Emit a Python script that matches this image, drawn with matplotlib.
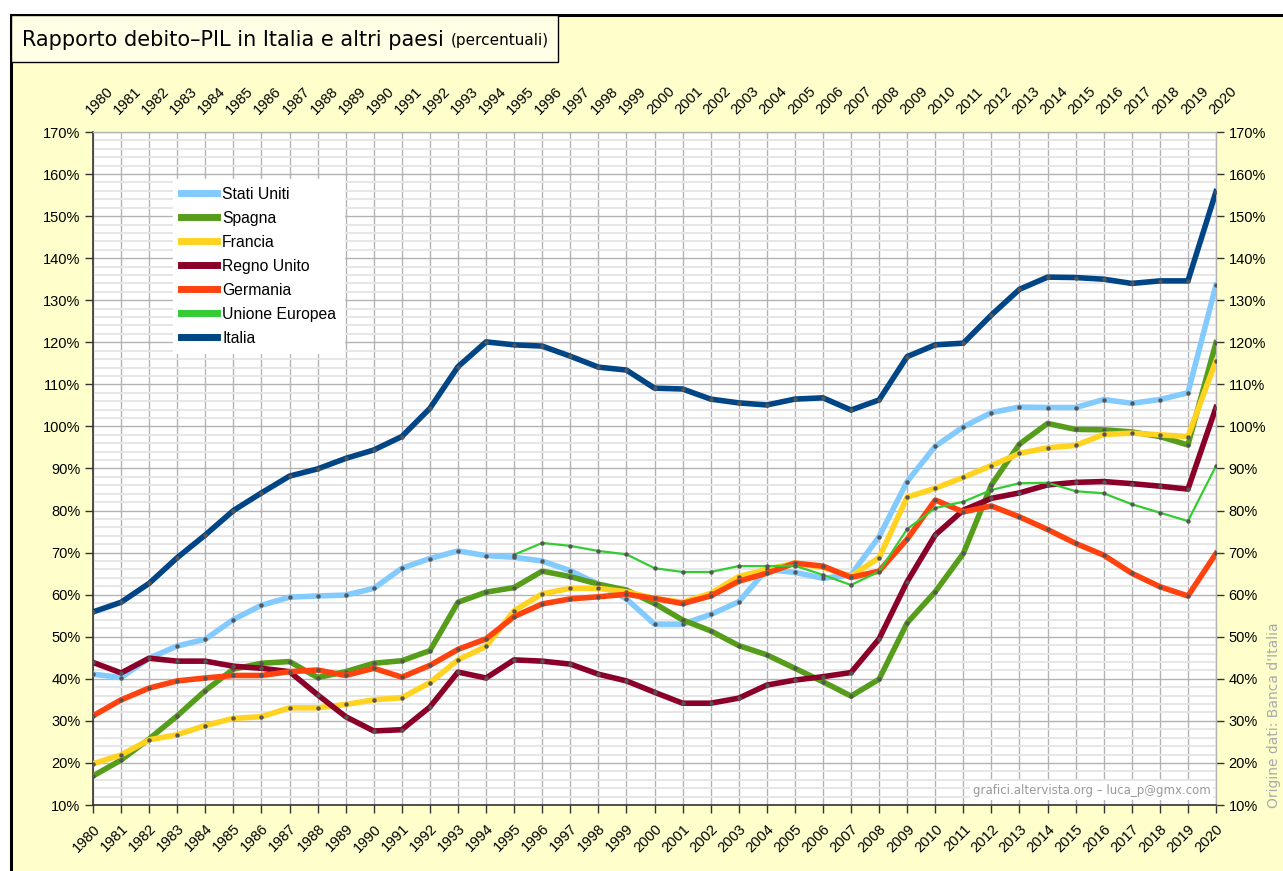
import numpy as np
import matplotlib.pyplot as plt
from matplotlib.patches import Rectangle
from matplotlib.ticker import MultipleLocator, FuncFormatter

nan = np.nan
years = list(range(1980, 2021))

stati_uniti = [41.1, 40.3, 44.9, 47.8, 49.4, 54.1, 57.5, 59.4, 59.7, 59.9,
               61.5, 66.3, 68.6, 70.4, 69.3, 68.9, 68.0, 65.7, 62.5, 59.0,
               53.0, 53.0, 55.3, 58.3, 66.0, 65.3, 63.9, 64.7, 73.8, 86.9,
               95.3, 99.9, 103.3, 104.6, 104.5, 104.5, 106.4, 105.5, 106.4, 108.0,
               133.6]
spagna = [16.9, 20.7, 25.7, 31.2, 37.2, 42.3, 43.7, 44.1, 40.3, 41.7,
          43.7, 44.3, 46.7, 58.2, 60.6, 61.7, 65.6, 64.3, 62.5, 61.1,
          57.9, 54.0, 51.4, 47.9, 45.7, 42.5, 39.3, 35.9, 39.9, 53.3,
          60.7, 69.8, 86.1, 95.8, 100.7, 99.3, 99.2, 98.7, 97.6, 95.6,
          119.9]
francia = [19.8, 21.9, 25.5, 26.7, 28.9, 30.6, 31.0, 33.1, 33.1, 33.9,
           35.0, 35.5, 39.1, 44.5, 47.7, 56.2, 60.2, 61.5, 61.5, 60.7,
           59.1, 58.2, 60.3, 64.3, 66.0, 67.5, 66.5, 64.4, 68.8, 83.2,
           85.3, 87.9, 90.7, 93.6, 94.9, 95.5, 98.1, 98.4, 98.0, 97.6,
           115.6]
regno_unito = [43.9, 41.4, 44.9, 44.2, 44.2, 43.0, 42.5, 41.7, 36.2, 31.0,
               27.6, 27.9, 33.3, 41.6, 40.2, 44.5, 44.2, 43.5, 41.1, 39.5,
               36.8, 34.2, 34.2, 35.4, 38.5, 39.7, 40.5, 41.5, 49.5, 63.1,
               74.2, 80.1, 82.9, 84.2, 86.1, 86.7, 86.9, 86.4, 85.8, 85.1,
               104.5]
germania = [31.2, 35.0, 37.8, 39.5, 40.2, 40.8, 40.8, 41.7, 42.1, 40.8,
            42.5, 40.4, 43.2, 47.0, 49.5, 54.8, 57.8, 59.0, 59.5, 60.1,
            59.1, 57.9, 59.7, 63.2, 65.1, 67.5, 66.8, 64.1, 65.6, 73.2,
            82.5, 79.7, 81.1, 78.5, 75.5, 72.2, 69.4, 65.1, 61.9, 59.7,
            69.8]
unione_europea = [nan] * 15 + [69.5, 72.3, 71.6, 70.4, 69.6,
                               66.3, 65.4, 65.4, 66.8, 66.8, 66.9, 64.7, 62.3, 65.5, 75.6,
                               80.6, 82.1, 84.9, 86.5, 86.6, 84.6, 84.1, 81.5, 79.5, 77.5,
                               90.6]
italia = [55.9, 58.2, 62.7, 68.8, 74.2, 80.0, 84.2, 88.2, 89.9, 92.4,
          94.4, 97.6, 104.3, 114.2, 120.1, 119.4, 119.1, 116.7, 114.1, 113.4,
          109.1, 108.9, 106.5, 105.6, 105.1, 106.5, 106.8, 103.9, 106.3, 116.6,
          119.4, 119.8, 126.5, 132.6, 135.5, 135.4, 135.0, 134.0, 134.6, 134.6,
          155.8]

series = [
    ("Stati Uniti", stati_uniti, "#83CAFF", 4.0),
    ("Spagna", spagna, "#579D1C", 4.0),
    ("Francia", francia, "#FFD320", 4.0),
    ("Regno Unito", regno_unito, "#8A0028", 4.0),
    ("Germania", germania, "#FF420E", 4.0),
    ("Unione Europea", unione_europea, "#33CC33", 1.6),
    ("Italia", italia, "#004586", 4.0),
]

W, H = 1283, 871
fig = plt.figure(figsize=(W / 100, H / 100), dpi=100, facecolor="white")


def fx(x):
    return x / W


def fy(y):
    return 1 - y / H


# yellow frame and title box behind everything
fig.patches.append(Rectangle((fx(11), -0.02), 1.05, fy(15) + 0.02,
                             transform=fig.transFigure, facecolor="#FFFFCC",
                             edgecolor="black", linewidth=2.2, zorder=-3))
fig.patches.append(Rectangle((fx(11), fy(62)), fx(558) - fx(11), fy(15) - fy(62),
                             transform=fig.transFigure, facecolor="#FFFFE6",
                             edgecolor="black", linewidth=1.0, zorder=-2))
t = fig.text(fx(22), fy(40), "Rapporto debito\u2013PIL in Italia e altri paesi",
             fontsize=15, family="DejaVu Sans", va="center", ha="left", color="black")
fig.canvas.draw()
bb = t.get_window_extent()
fig.text(bb.x1 / W + 0.005, fy(40), "(percentuali)", fontsize=11,
         family="DejaVu Sans", va="center", ha="left", color="black")

ax = fig.add_axes([fx(93), fy(805), fx(1216) - fx(93), fy(132) - fy(805)])
ax.set_zorder(1)
ax.set_facecolor("white")

for name, vals, col, lw in series:
    ax.plot(years, vals, color=col, lw=lw, label=name, zorder=3,
            solid_joinstyle="round", marker="o", markersize=2.2,
            markerfacecolor="#555555", markeredgecolor="#555555")

ax.set_xlim(1980, 2020)
ax.set_ylim(10, 170)
ax.set_xticks(years)
ax.yaxis.set_major_locator(MultipleLocator(10))
ax.yaxis.set_minor_locator(MultipleLocator(2))
ax.yaxis.set_major_formatter(FuncFormatter(lambda v, p: f"{v:.0f}%"))

ax.grid(axis="x", color="#b3b3b3", lw=1.0, zorder=1)
ax.grid(axis="y", which="major", color="#b3b3b3", lw=1.0, zorder=1)
ax.grid(axis="y", which="minor", color="#e6e6e6", lw=1.4, zorder=0.5)
ax.set_axisbelow(True)

ax.set_xticklabels([str(y) for y in years], rotation=45, ha="right", va="top",
                   rotation_mode="anchor", fontsize=10.5, family="Liberation Sans")
ax.tick_params(axis="x", direction="out", length=6, width=1, color="#333333", pad=6)
ax.tick_params(axis="y", which="major", direction="out", length=6, width=1,
               color="#333333", labelsize=10.5, left=True, right=True,
               labelleft=True, labelright=True, pad=3)
ax.tick_params(axis="y", which="minor", length=0)
for lab in ax.get_yticklabels():
    lab.set_family("Liberation Sans")

top = ax.secondary_xaxis("top")
top.set_xticks(years)
top.set_xticklabels([str(y) for y in years], rotation=45, ha="left", va="bottom",
                    rotation_mode="anchor", fontsize=10.5, family="Liberation Sans")
top.tick_params(length=0, pad=11)
top.spines["top"].set_visible(False)

for s in ["left", "bottom"]:
    ax.spines[s].set_color("#333333")
    ax.spines[s].set_linewidth(1.2)
for s in ["top", "right"]:
    ax.spines[s].set_color("#b3b3b3")
    ax.spines[s].set_linewidth(1.0)

leg = ax.legend(loc="upper left", bbox_to_anchor=(0.071, 0.93), frameon=True,
                fancybox=False, framealpha=1, edgecolor="white", facecolor="white",
                prop={"family": "Liberation Sans", "size": 11.3},
                handlelength=2.3, handletextpad=0.35, labelspacing=0.57,
                borderpad=0.5, borderaxespad=0)
for h in leg.get_lines():
    h.set_marker("")
    h.set_linewidth(5)

ax.text(0.995, 0.012, "grafici.altervista.org \u2013 luca_p@gmx.com",
        transform=ax.transAxes, ha="right", va="bottom", fontsize=8.5,
        family="DejaVu Sans", color="#999999", zorder=5,
        bbox=dict(facecolor="white", edgecolor="none", pad=2))

fig.text(fx(1274), fy(808), "Origine dati: Banca d'Italia", rotation=90,
         ha="center", va="bottom", fontsize=10, family="DejaVu Sans",
         color="#aaaaaa")

fig.savefig("out.png", dpi=100)
